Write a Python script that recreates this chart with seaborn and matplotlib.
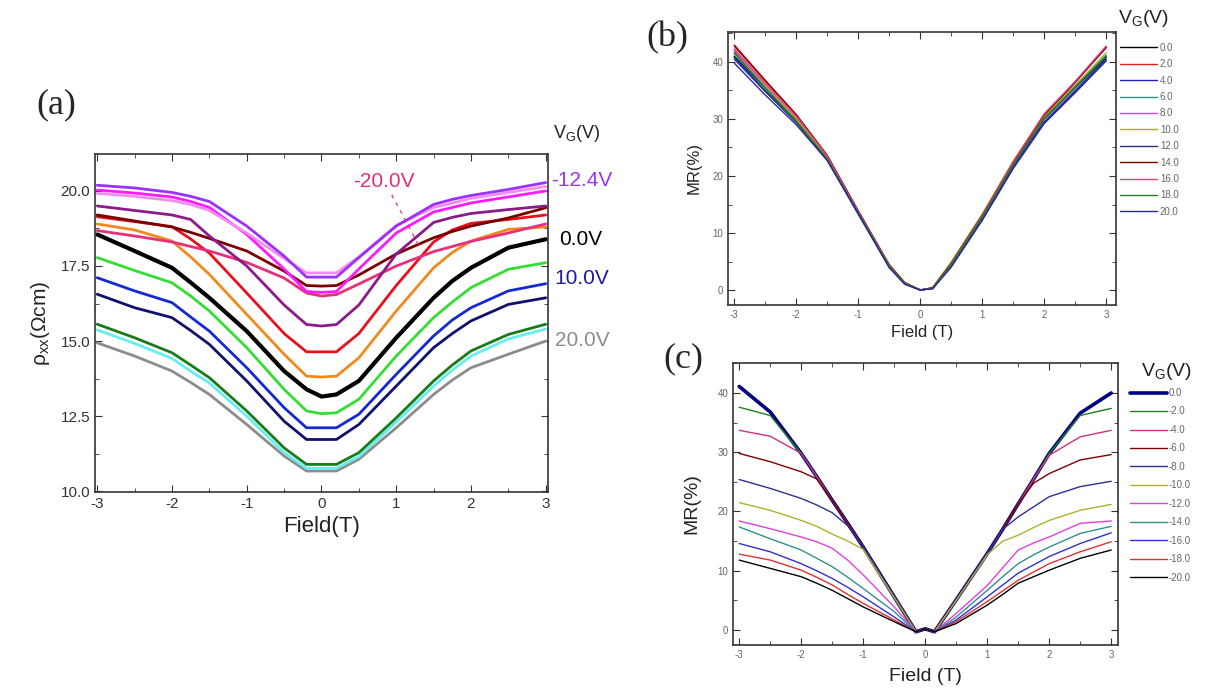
import pandas as pd
import matplotlib
matplotlib.use('Agg')
import matplotlib.pyplot as plt
import seaborn as sns
from matplotlib.ticker import MultipleLocator, FormatStrFormatter

# ---------------- panel (a): rho_xx vs field ----------------
field_a = [-3, -2.5, -2, -1.75, -1.5, -1, -0.5, -0.2, 0, 0.2, 0.5, 1, 1.5, 1.75, 2, 2.5, 3]
rho_purple = [20.19, 20.1, 19.95, 19.82, 19.65, 18.83, 17.83, 17.13, 17.13, 17.13, 17.78, 18.83, 19.55, 19.72, 19.85, 20.05, 20.28]
rho_orchid = [19.92, 19.82, 19.68, 19.55, 19.35, 18.6, 17.75, 17.27, 17.27, 17.27, 17.8, 18.85, 19.45, 19.6, 19.75, 19.95, 20.15]
rho_magenta = [20.03, 19.93, 19.8, 19.65, 19.45, 18.55, 17.4, 16.65, 16.62, 16.65, 17.4, 18.6, 19.3, 19.45, 19.6, 19.8, 20.0]
rho_plum = [19.5, 19.35, 19.2, 19.05, 18.5, 17.5, 16.2, 15.55, 15.5, 15.55, 16.2, 17.9, 18.95, 19.12, 19.25, 19.38, 19.5]
rho_maroon = [19.2, 19.0, 18.8, 18.62, 18.42, 18.0, 17.33, 16.85, 16.83, 16.85, 17.2, 17.9, 18.44, 18.65, 18.83, 19.1, 19.44]
rho_red = [19.14, 18.98, 18.81, 18.4, 17.93, 16.6, 15.25, 14.64, 14.64, 14.64, 15.25, 16.85, 18.3, 18.7, 18.92, 19.05, 19.2]
rho_orange = [18.9, 18.7, 18.33, 17.8, 17.22, 15.89, 14.56, 13.83, 13.8, 13.83, 14.44, 16.0, 17.44, 17.95, 18.33, 18.72, 18.8]
rho_pink = [18.68, 18.5, 18.3, 18.15, 18.0, 17.62, 17.1, 16.6, 16.5, 16.55, 16.9, 17.5, 17.98, 18.15, 18.32, 18.6, 18.9]
rho_black = [18.55, 18.0, 17.44, 16.95, 16.44, 15.33, 14.0, 13.39, 13.15, 13.22, 13.67, 15.11, 16.44, 17.0, 17.44, 18.11, 18.39]
rho_green = [17.78, 17.35, 16.94, 16.5, 16.0, 14.78, 13.39, 12.67, 12.58, 12.61, 13.06, 14.5, 15.78, 16.3, 16.78, 17.39, 17.61]
rho_blue = [17.11, 16.67, 16.28, 15.8, 15.33, 14.11, 12.78, 12.11, 12.11, 12.11, 12.56, 13.89, 15.17, 15.7, 16.11, 16.67, 16.91]
rho_navy = [16.56, 16.11, 15.78, 15.35, 14.89, 13.67, 12.33, 11.72, 11.72, 11.72, 12.22, 13.5, 14.78, 15.25, 15.67, 16.22, 16.44]
rho_dkgreen = [15.56, 15.11, 14.61, 14.2, 13.78, 12.67, 11.44, 10.89, 10.89, 10.89, 11.28, 12.44, 13.67, 14.2, 14.67, 15.22, 15.56]
rho_cyan = [15.37, 14.92, 14.42, 14.0, 13.6, 12.5, 11.28, 10.76, 10.76, 10.76, 11.15, 12.3, 13.5, 14.03, 14.5, 15.07, 15.4]
rho_grey = [14.94, 14.5, 14.0, 13.62, 13.22, 12.22, 11.17, 10.67, 10.67, 10.67, 11.06, 12.11, 13.22, 13.7, 14.11, 14.56, 15.0]

# ---------------- panel (b): MR, positive gate ----------------
field_b = [-3, -2.5, -2, -1.5, -1, -0.5, -0.25, 0, 0.2, 0.5, 1, 1.5, 2, 2.5, 3]
vg_b = ['0.0', '2.0', '4.0', '6.0', '8.0', '10.0', '12.0', '14.0', '16.0', '18.0', '20.0']
mr_b_00 = [41.0, 35.5, 29.8, 23.0, 13.5, 4.2, 1.2, 0.0, 0.3, 4.5, 12.8, 22.0, 30.0, 35.5, 40.8]
mr_b_02 = [43.0, 36.8, 30.8, 23.6, 13.8, 4.4, 1.3, 0.0, 0.4, 4.8, 13.2, 22.5, 30.8, 36.5, 42.5]
mr_b_04 = [40.8, 35.0, 29.5, 22.8, 13.3, 4.0, 1.1, 0.0, 0.3, 4.3, 12.5, 21.6, 29.5, 35.0, 40.5]
mr_b_06 = [41.3, 35.6, 30.0, 23.2, 13.6, 4.2, 1.2, 0.0, 0.3, 4.6, 12.9, 22.1, 30.2, 35.8, 41.2]
mr_b_08 = [42.0, 36.0, 30.2, 23.4, 13.7, 4.3, 1.2, 0.0, 0.3, 4.4, 12.7, 22.3, 30.6, 36.4, 42.6]
mr_b_10 = [41.5, 35.8, 30.0, 23.3, 13.8, 4.5, 1.3, 0.0, 0.4, 4.9, 13.3, 22.6, 30.4, 35.9, 41.6]
mr_b_12 = [40.5, 34.8, 29.4, 22.9, 13.5, 4.1, 1.1, 0.0, 0.3, 4.2, 12.4, 21.5, 29.4, 34.8, 40.3]
mr_b_14 = [42.8, 36.7, 30.7, 23.6, 13.9, 4.4, 1.3, 0.0, 0.4, 4.7, 13.1, 22.4, 30.7, 36.4, 42.6]
mr_b_16 = [42.3, 36.3, 30.5, 23.5, 13.8, 4.3, 1.2, 0.0, 0.3, 4.6, 13.0, 22.5, 30.9, 36.6, 42.8]
mr_b_18 = [41.7, 35.4, 29.6, 23.0, 13.6, 4.2, 1.2, 0.0, 0.3, 4.5, 12.8, 22.0, 30.1, 35.6, 41.0]
mr_b_20 = [39.8, 34.2, 29.0, 22.7, 13.4, 3.9, 1.0, 0.0, 0.2, 4.0, 12.2, 21.3, 29.2, 34.6, 40.2]

# ---------------- panel (c): MR, negative gate ----------------
field_c = [-3, -2.5, -2, -1.75, -1.5, -1.25, -1, -0.5, -0.15, 0, 0.15, 0.5, 1, 1.25, 1.5, 1.75, 2, 2.5, 3]
vg_c = ['0.0', '-2.0', '-4.0', '-6.0', '-8.0', '-10.0', '-12.0', '-14.0', '-16.0', '-18.0', '-20.0']
mr_c_00 = [41.1, 36.8, 29.8, 25.9, 21.9, 18.0, 14.0, 5.6, -0.3, 0.2, -0.3, 5.1, 12.9, 17.0, 21.3, 25.5, 29.8, 36.6, 40.0]
mr_c_02 = [37.6, 36.2, 29.8, 25.9, 21.9, 18.0, 14.0, 5.6, -0.3, 0.2, -0.3, 5.1, 12.9, 17.0, 21.3, 25.5, 29.8, 36.2, 37.4]
mr_c_04 = [33.7, 32.7, 29.8, 25.9, 21.9, 18.0, 14.0, 5.6, -0.3, 0.2, -0.3, 5.1, 12.9, 17.0, 21.3, 25.5, 29.5, 32.6, 33.7]
mr_c_06 = [29.8, 28.4, 26.7, 25.5, 21.9, 18.0, 14.0, 5.6, -0.3, 0.2, -0.3, 5.1, 12.9, 17.0, 21.3, 24.8, 26.4, 28.7, 29.6]
mr_c_08 = [25.4, 23.9, 22.2, 21.1, 19.8, 17.6, 14.0, 5.6, -0.3, 0.2, -0.3, 5.1, 12.9, 17.0, 19.1, 20.8, 22.5, 24.2, 25.1]
mr_c_10 = [21.5, 20.2, 18.5, 17.5, 16.2, 15.0, 13.6, 5.5, -0.3, 0.2, -0.3, 5.0, 12.7, 15.0, 16.0, 17.3, 18.5, 20.2, 21.2]
mr_c_12 = [18.4, 17.1, 15.7, 14.9, 13.8, 11.8, 9.3, 3.9, -0.3, 0.2, -0.3, 2.8, 7.5, 10.5, 13.5, 14.7, 15.7, 18.0, 18.4]
mr_c_14 = [17.4, 15.4, 13.5, 12.1, 10.7, 8.9, 7.0, 3.1, -0.3, 0.2, -0.3, 2.2, 6.7, 9.0, 11.2, 12.7, 14.0, 16.3, 17.5]
mr_c_16 = [14.6, 13.2, 11.2, 10.0, 8.7, 7.2, 5.6, 2.2, -0.3, 0.2, -0.3, 1.7, 5.6, 7.6, 9.6, 11.0, 12.4, 14.6, 16.4]
mr_c_18 = [12.8, 11.8, 10.1, 8.9, 7.6, 6.0, 4.5, 1.7, -0.3, 0.2, -0.3, 1.4, 4.8, 6.6, 8.4, 9.8, 11.2, 13.2, 14.9]
mr_c_20 = [11.8, 10.4, 9.0, 7.9, 6.7, 5.3, 3.9, 1.4, -0.3, 0.2, -0.3, 1.1, 4.2, 6.0, 7.9, 9.0, 10.1, 12.1, 13.5]

sns.set_style('ticks')
plt.rcParams['font.family'] = ['Liberation Sans', 'DejaVu Sans']
plt.rcParams['axes.unicode_minus'] = False
plt.rcParams['xtick.direction'] = 'in'
plt.rcParams['ytick.direction'] = 'in'

fig = plt.figure(figsize=(12.07, 6.97), dpi=100)
ax_a = fig.add_axes([0.0787, 0.2941, 0.3753, 0.4849])
ax_b = fig.add_axes([0.6032, 0.5624, 0.3215, 0.3917])
ax_c = fig.add_axes([0.6073, 0.0746, 0.3190, 0.4046])


def style_axes(ax, size, color):
    ax.tick_params(which='both', top=True, right=True, labelsize=size,
                   labelcolor=color, color='#333333')
    ax.tick_params(which='major', length=5)
    ax.tick_params(which='minor', length=3)
    for s in ax.spines.values():
        s.set_color('#333333')
        s.set_linewidth(1.2)


# panel (a)
curves_a = [
    (rho_grey, '#8c8c8c', 2.0), (rho_cyan, '#66eeee', 2.0), (rho_dkgreen, '#1a7a1a', 2.0),
    (rho_navy, '#10106e', 2.0), (rho_blue, '#1428d8', 2.0), (rho_green, '#33dd33', 2.0),
    (rho_black, '#000000', 3.0), (rho_orange, '#f08a1c', 2.0), (rho_red, '#e8101a', 2.0),
    (rho_pink, '#e8307a', 2.0), (rho_maroon, '#7a0000', 2.0), (rho_plum, '#8b1a8b', 2.0),
    (rho_magenta, '#ff1aff', 2.0), (rho_orchid, '#f58cf5', 2.0), (rho_purple, '#9b30ff', 2.0),
]
for vals, col, lw in curves_a:
    df = pd.DataFrame({'field': field_a, 'rho': vals})
    sns.lineplot(data=df, x='field', y='rho', ax=ax_a, color=col, lw=lw, sort=False)

ax_a.set_xlim(-3.03, 3.03)
ax_a.set_ylim(9.97, 21.23)
ax_a.xaxis.set_major_locator(MultipleLocator(1))
ax_a.xaxis.set_minor_locator(MultipleLocator(0.5))
ax_a.yaxis.set_major_locator(MultipleLocator(2.5))
ax_a.yaxis.set_minor_locator(MultipleLocator(1.25))
ax_a.yaxis.set_major_formatter(FormatStrFormatter('%.1f'))
style_axes(ax_a, 11, '#333333')
ax_a.set_xlabel('Field(T)', fontsize=16, color='#222222', labelpad=4)
ax_a.set_ylabel(r'ρ$_{\mathregular{xx}}$(Ωcm)', fontsize=15, color='#222222', labelpad=6)

ax_a.text(3.1, 21.93, r'V$_{\mathregular{G}}$(V)', fontsize=13, color='#222222', va='center', ha='left', clip_on=False)
ax_a.text(3.07, 20.35, '-12.4V', fontsize=15, color='#9933ff', va='center', ha='left', clip_on=False)
ax_a.text(3.18, 18.37, '0.0V', fontsize=15, color='#000000', va='center', ha='left', clip_on=False)
ax_a.text(3.12, 17.07, '10.0V', fontsize=15, color='#1c1ca0', va='center', ha='left', clip_on=False)
ax_a.text(3.12, 15.03, '20.0V', fontsize=15, color='#8c8c8c', va='center', ha='left', clip_on=False)
ax_a.text(0.83, 20.3, '-20.0V', fontsize=15, color='#e0307a', va='center', ha='center')
ax_a.plot([0.94, 1.32], [19.87, 18.1], ls=(0, (3, 4)), color='#e0307a', lw=0.9)

# panel (b)
curves_b = [mr_b_00, mr_b_02, mr_b_04, mr_b_06, mr_b_08, mr_b_10,
            mr_b_12, mr_b_14, mr_b_16, mr_b_18, mr_b_20]
colors_b = ['#000000', '#e02020', '#2020c0', '#309090', '#e040e0', '#b0a830',
            '#303080', '#800000', '#e0407a', '#208020', '#2a2aa0']
for vals, col, lab in zip(curves_b, colors_b, vg_b):
    df = pd.DataFrame({'field': field_b, 'mr': vals})
    sns.lineplot(data=df, x='field', y='mr', ax=ax_b, color=col, lw=1.0, sort=False, label=lab)

ax_b.set_xlim(-3.1, 3.16)
ax_b.set_ylim(-2.63, 45.26)
ax_b.xaxis.set_major_locator(MultipleLocator(1))
ax_b.xaxis.set_minor_locator(MultipleLocator(0.5))
ax_b.yaxis.set_major_locator(MultipleLocator(10))
ax_b.yaxis.set_minor_locator(MultipleLocator(5))
style_axes(ax_b, 7, '#666666')
ax_b.set_xlabel('Field (T)', fontsize=12, color='#222222', labelpad=4)
ax_b.set_ylabel('MR(%)', fontsize=12, color='#222222', labelpad=8)
leg = ax_b.legend(loc='upper left', bbox_to_anchor=(1.0, 0.975), frameon=False, fontsize=7,
                  handlelength=3.8, handletextpad=0.3, labelspacing=0.66, borderaxespad=0.0)
for t in leg.get_texts():
    t.set_color('#666666')
ax_b.text(1.005, 1.05, r'V$_{\mathregular{G}}$(V)', transform=ax_b.transAxes, fontsize=14, color='#222222',
          va='center', ha='left', clip_on=False)

# panel (c)
curves_c = [mr_c_00, mr_c_02, mr_c_04, mr_c_06, mr_c_08, mr_c_10,
            mr_c_12, mr_c_14, mr_c_16, mr_c_18, mr_c_20]
colors_c = ['#000080', '#208020', '#d03080', '#800000', '#303090', '#b0b030',
            '#e040e0', '#309090', '#3030d0', '#e03030', '#000000']
for i, (vals, col, lab) in enumerate(zip(curves_c, colors_c, vg_c)):
    df = pd.DataFrame({'field': field_c, 'mr': vals})
    sns.lineplot(data=df, x='field', y='mr', ax=ax_c, color=col,
                 lw=2.6 if i == 0 else 1.0, sort=False, label=lab)

ax_c.set_xlim(-3.1, 3.11)
ax_c.set_ylim(-2.53, 45.06)
ax_c.xaxis.set_major_locator(MultipleLocator(1))
ax_c.xaxis.set_minor_locator(MultipleLocator(0.5))
ax_c.yaxis.set_major_locator(MultipleLocator(10))
ax_c.yaxis.set_minor_locator(MultipleLocator(5))
style_axes(ax_c, 7, '#666666')
ax_c.set_xlabel('Field (T)', fontsize=14, color='#222222', labelpad=6)
ax_c.set_ylabel('MR(%)', fontsize=14, color='#222222', labelpad=12)
leg = ax_c.legend(loc='upper left', bbox_to_anchor=(1.02, 0.925), frameon=False, fontsize=7,
                  handlelength=3.8, handletextpad=0.2, labelspacing=0.87, borderaxespad=0.0)
for t in leg.get_texts():
    t.set_color('#666666')
ax_c.text(1.06, 0.97, r'V$_{\mathregular{G}}$(V)', transform=ax_c.transAxes, fontsize=14, color='#222222',
          va='center', ha='left', clip_on=False)

# panel letters
fig.text(0.047, 0.85, '(a)', fontsize=26, family='Liberation Serif', ha='center', va='center')
fig.text(0.553, 0.946, '(b)', fontsize=26, family='Liberation Serif', ha='center', va='center')
fig.text(0.566, 0.485, '(c)', fontsize=26, family='Liberation Serif', ha='center', va='center')

fig.savefig('out.png', dpi=100)
